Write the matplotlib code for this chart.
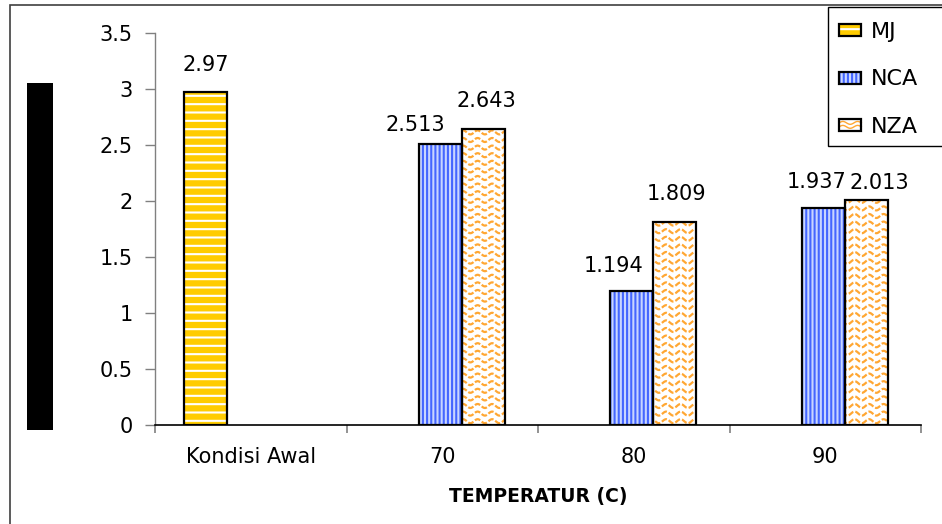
import numpy as np
import matplotlib
matplotlib.use("Agg")
import matplotlib.pyplot as plt
from matplotlib.patches import Rectangle
from matplotlib.lines import Line2D
from matplotlib.collections import LineCollection
from matplotlib.legend_handler import HandlerBase

# ---- data -------------------------------------------------------------
categories = ["Kondisi Awal", "70", "80", "90"]
mj = [2.97, np.nan, np.nan, np.nan]
nca = [np.nan, 2.513, 1.194, 1.937]
nza = [np.nan, 2.643, 1.809, 2.013]
series_names = ["MJ", "NCA", "NZA"]
y_ticks = [0, 0.5, 1, 1.5, 2, 2.5, 3, 3.5]
y_tick_labels = ["0", "0.5", "1", "1.5", "2", "2.5", "3", "3.5"]
x_label = "TEMPERATUR (C)"

# ---- styling ----------------------------------------------------------
W, H, DPI = 942, 524, 100
plt.rcParams["font.family"] = ["DejaVu Sans"]
plt.rcParams["hatch.linewidth"] = 1.5
FS = 15

styles = {
    "MJ": dict(face="#FFCC00", hatch="--", hcolor="#FFFFFF", waves=False),
    "NCA": dict(face="#C9D6FF", hatch="||||", hcolor="#4466FF", waves=False),
    "NZA": dict(face="#FFFFFF", hatch=None, hcolor="#FFA733", waves=True),
}
# label offsets (pixels) relative to the top centre of each bar
label_offsets = {
    ("MJ", 0): (0, 27),
    ("NCA", 1): (-25, 19), ("NZA", 1): (3, 28),
    ("NCA", 2): (-18, 25), ("NZA", 2): (2, 28),
    ("NCA", 3): (-7, 26), ("NZA", 3): (13, 17),
}

fig = plt.figure(figsize=(W / DPI, H / DPI), dpi=DPI)
fig.patch.set_facecolor("white")

# outer frame of the chart area
fig.add_artist(Rectangle((10 / W, -0.05), 1.0, 1 - 5 / H + 0.05,
                         transform=fig.transFigure, fill=False,
                         edgecolor="#404040", lw=1.2))
# solid block on the left
fig.add_artist(Rectangle((27 / W, 1 - 430 / H), 26 / W, (430 - 83) / H,
                         transform=fig.transFigure, facecolor="black",
                         edgecolor="none"))

ax = fig.add_axes([155 / W, 1 - 425 / H, (921 - 155) / W, 392 / H])
ax.set_xlim(-0.5, len(categories) - 0.5)
ax.set_ylim(0, 3.5)

ax_w_px = (921 - 155)
ax_h_px = 392


def wave_segments(period_px=14.5, row_px=7.6, amp_px=2.0):
    xs = np.linspace(0, 1, 1200)
    segs = []
    n_rows = int(ax_h_px / row_px) + 2
    for r in range(n_rows):
        y0 = (r + 0.5) * row_px
        ys = (y0 + amp_px * np.sin(2 * np.pi * xs * ax_w_px / period_px)) / ax_h_px
        segs.append(np.column_stack([xs, ys]))
    return segs


width = 0.225
shift = -0.01
x = np.arange(len(categories))
values = {"MJ": mj, "NCA": nca, "NZA": nza}

for i, name in enumerate(series_names):
    st = styles[name]
    vals = np.asarray(values[name], dtype=float)
    mask = ~np.isnan(vals)
    xpos = x[mask] + (i - 1) * width + shift
    hv = vals[mask]
    base = ax.bar(xpos, hv, width, color=st["face"], edgecolor=st["hcolor"],
                  hatch=st["hatch"], linewidth=0, zorder=2)
    if st["waves"]:
        for rect in base.patches:
            lc = LineCollection(wave_segments(), colors=st["hcolor"],
                                linewidths=1.6, linestyles=[(0, (2.6, 0.9))],
                                transform=ax.transAxes, zorder=2.5)
            ax.add_collection(lc)
            lc.set_clip_path(rect.get_path(), rect.get_transform())
    ax.bar(xpos, hv, width, facecolor="none", edgecolor="black",
           linewidth=1.6, zorder=3)
    for ci, xp, v in zip(x[mask], xpos, hv):
        dx, dy = label_offsets[(name, ci)]
        ax.annotate(f"{v:g}", xy=(xp, v), xytext=(dx, dy),
                    textcoords="offset pixels", ha="center", va="center",
                    fontsize=FS, color="black")

# axes styling
for s in ("top", "right"):
    ax.spines[s].set_visible(False)
ax.spines["left"].set_color("#808080")
ax.spines["left"].set_linewidth(1.0)
ax.spines["bottom"].set_color("black")
ax.spines["bottom"].set_linewidth(1.2)

ax.set_yticks(y_ticks, y_tick_labels)
ax.tick_params(axis="y", length=7, width=1, color="#808080", pad=9,
               labelsize=FS)

ax.set_xticks(np.arange(-0.5, len(categories)), [""] * (len(categories) + 1))
ax.set_xticks(x, categories, minor=True)
ax.tick_params(axis="x", which="major", length=6, width=1.2, color="#808080")
ax.tick_params(axis="x", which="minor", length=0, pad=16, labelsize=FS)
ax.set_xlabel(x_label, fontsize=13.5, fontweight="bold", labelpad=14)


# legend
class HatchBox(HandlerBase):
    def __init__(self, st):
        super().__init__()
        self.st = st

    def create_artists(self, legend, orig_handle, xdescent, ydescent,
                       width, height, fontsize, trans):
        st = self.st
        x0, y0 = -xdescent, -ydescent
        arts = [Rectangle((x0, y0), width, height, facecolor=st["face"],
                          edgecolor=st["hcolor"], hatch=st["hatch"], lw=0,
                          transform=trans)]
        if st["waves"]:
            xs = np.linspace(x0, x0 + width, 40)
            for k in (1, 2):
                ys = y0 + height * k / 3 + height * 0.12 * np.sin(
                    2 * np.pi * (xs - x0) / (width / 1.5))
                arts.append(Line2D(xs, ys, color=st["hcolor"], lw=1.0,
                                   transform=trans))
        arts.append(Rectangle((x0, y0), width, height, facecolor="none",
                              edgecolor="black", lw=1.6, transform=trans))
        return arts


# legend frame runs past the right edge of the figure
fig.add_artist(Rectangle((828 / W, 1 - 146 / H), 0.2, (146 - 7) / H,
                         transform=fig.transFigure, facecolor="white",
                         edgecolor="black", lw=1.0, zorder=4))

handles = [Rectangle((0, 0), 1, 1) for _ in series_names]
leg = fig.legend(handles, series_names,
                 handler_map={h: HatchBox(styles[n]) for h, n in zip(handles, series_names)},
                 loc="upper left", bbox_to_anchor=(828 / W, 1 - 11 / H),
                 bbox_transform=fig.transFigure, borderaxespad=0,
                 fontsize=FS + 1, frameon=False, handlelength=1.0,
                 handleheight=0.45, handletextpad=0.45, labelspacing=1.23,
                 borderpad=0.5)
leg.set_zorder(5)

fig.savefig("out.png", dpi=DPI)
